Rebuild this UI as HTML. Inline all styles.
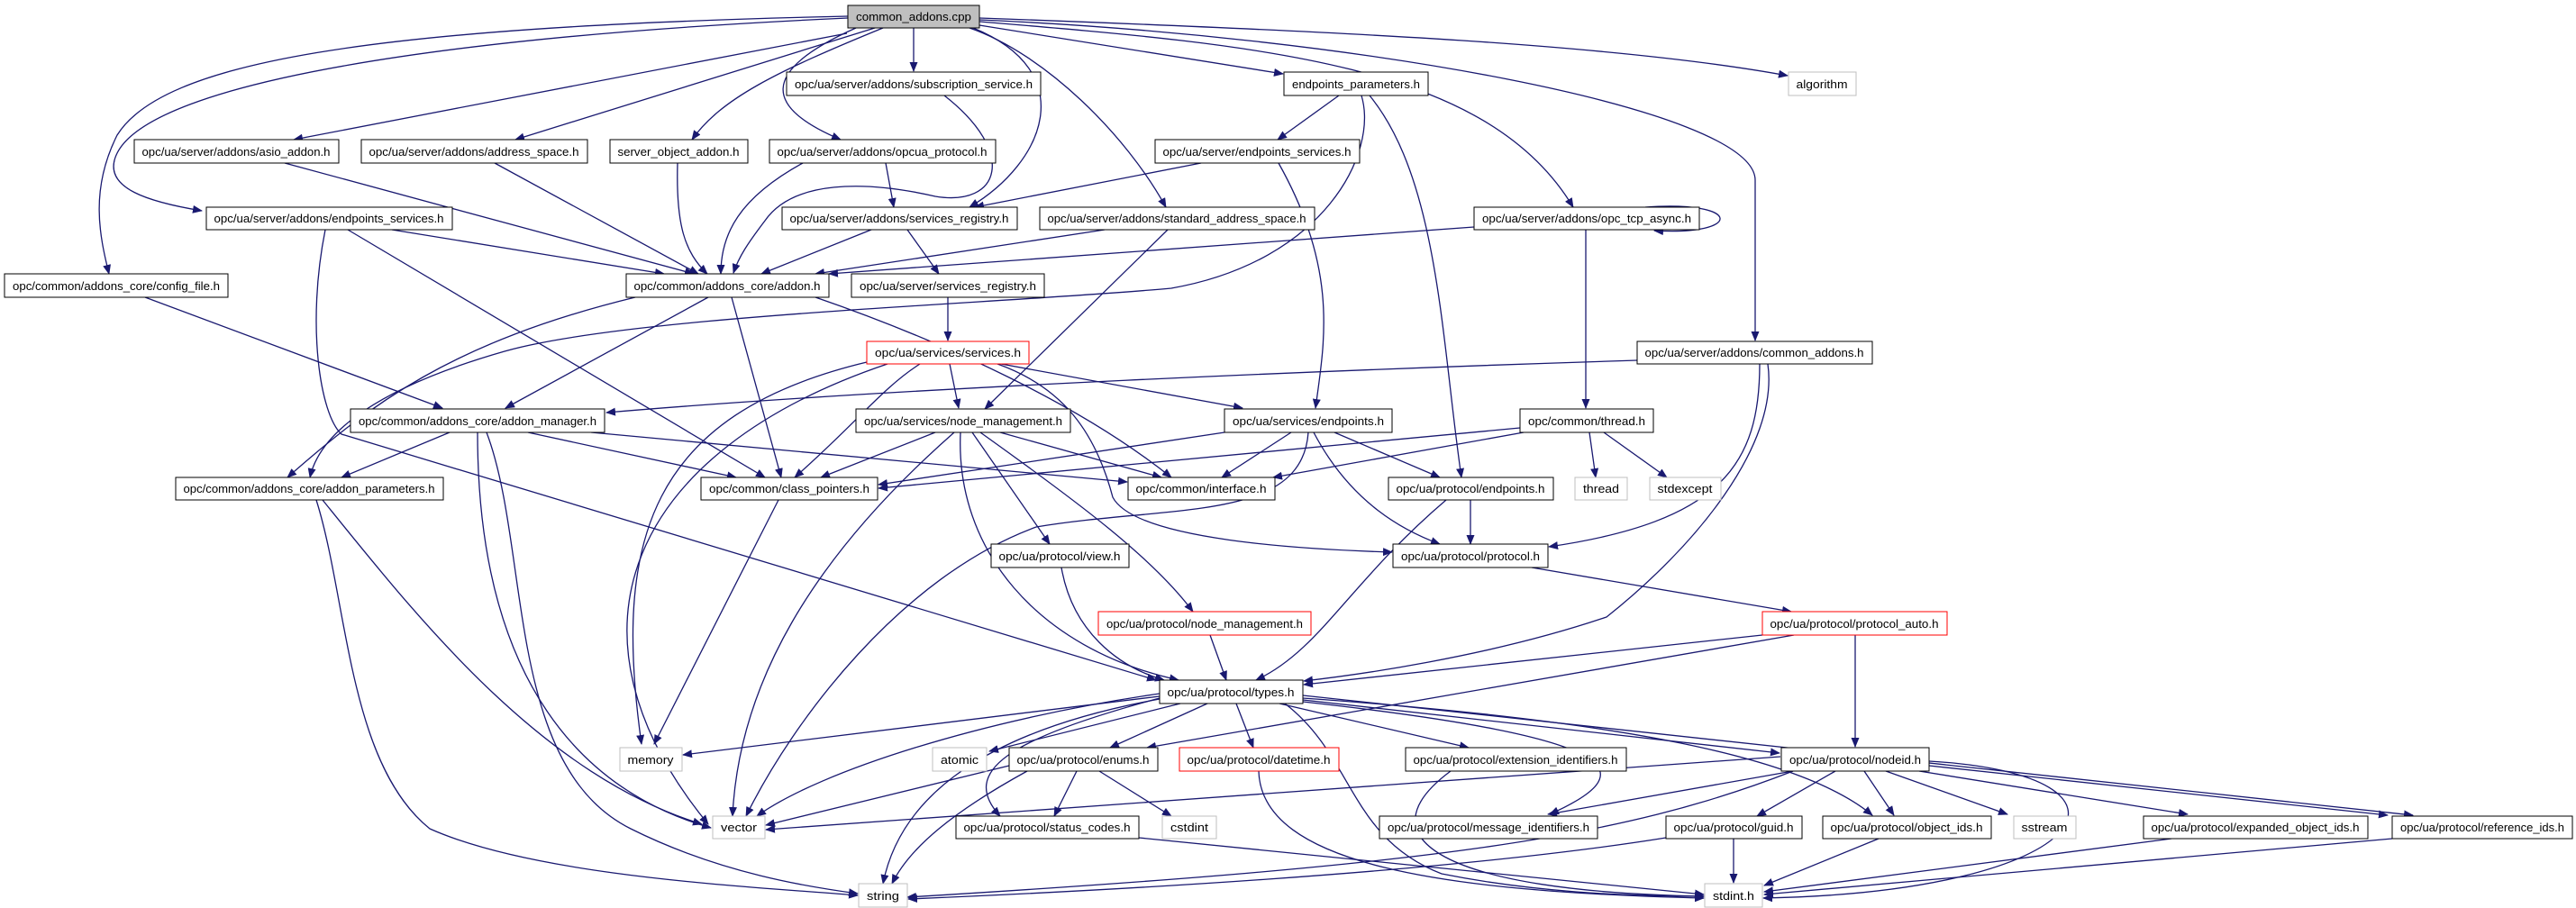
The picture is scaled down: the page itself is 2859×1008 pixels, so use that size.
<!DOCTYPE html>
<html><head><meta charset="utf-8"><style>
html,body{margin:0;padding:0;background:#fff;}
svg{display:block;}
text{font-family:"Liberation Sans",sans-serif;font-size:13px;fill:#000;}
.e{fill:none;stroke:#191970;stroke-width:1.3;marker-end:url(#a);}
.n{fill:#fff;stroke:#000;stroke-width:1;}
.g{fill:#fff;stroke:#bfbfbf;stroke-width:1;}
.r{fill:#fff;stroke:#ff0000;stroke-width:1;}
</style></head><body>
<svg width="2859" height="1008" viewBox="0 0 2859 1008" xmlns="http://www.w3.org/2000/svg">
<defs><marker id="a" markerWidth="11" markerHeight="9" refX="10" refY="4.5" orient="auto" markerUnits="userSpaceOnUse"><path d="M0,0 L11,4.5 L0,9z" fill="#191970"/></marker></defs>
<g>
<!-- root edges -->
<path class="e" d="M1014,31 L1014,79"/>
<path class="e" d="M1087,28 L1424,82"/>
<path class="e" d="M1087,20 C1500,35 1800,50 1984,84"/>
<path class="e" d="M940,37 L326,155"/>
<path class="e" d="M971,31 L572,155"/>
<path class="e" d="M980,31 C860,80 800,110 768,155"/>
<path class="e" d="M950,31 C840,80 850,120 933,155"/>
<path class="e" d="M941,20 C500,40 170,90 130,170 C110,210 170,225 224,234"/>
<path class="e" d="M941,18 C400,30 180,70 130,150 C100,210 110,260 121,304"/>
<path class="e" d="M1080,31 C1200,80 1160,180 1076,230"/>
<path class="e" d="M1076,31 C1160,60 1250,150 1294,230"/>
<path class="e" d="M1087,24 C1400,50 1650,70 1746,230"/>
<path class="e" d="M1087,22 C1500,40 1948,120 1948,200 L1948,378"/>
<!-- level 2 -->
<path class="e" d="M1486,106 L1418,155"/>
<path class="e" d="M1511,106 C1530,170 1470,290 1300,320 C1100,338 701,350 560,390 C420,430 355,480 344,530"/>
<path class="e" d="M1520,106 C1597,200 1600,380 1622,530"/>
<path class="e" d="M1048,106 C1130,170 1110,230 1038,218 C960,200 880,200 849,245 C830,270 820,285 814,303"/>
<path class="e" d="M316,181 L770,304"/>
<path class="e" d="M549,181 L775,304"/>
<path class="e" d="M752,181 C750,250 760,280 785,304"/>
<path class="e" d="M891,181 C820,220 800,260 800,304"/>
<path class="e" d="M983,181 L992,230"/>
<path class="e" d="M1333,181 L1082,230"/>
<path class="e" d="M1419,181 C1486,300 1470,380 1460,453"/>
<path class="e" d="M435,255 L737,304"/>
<path class="e" d="M967,255 L845,304"/>
<path class="e" d="M1007,255 L1042,304"/>
<path class="e" d="M1226,255 L905,304"/>
<path class="e" d="M1636,252 L920,304"/>
<path class="e" d="M1296,255 L1093,454"/>
<path class="e" d="M1826,230 C1935,222 1935,262 1836,256"/>
<path class="e" d="M1760,255 L1760,453"/>
<path class="e" d="M361,255 C340,360 355,460 379,482 L1283,755"/>
<path class="e" d="M386,255 L849,530"/>
<!-- level 3 -->
<path class="e" d="M161,330 L491,453"/>
<path class="e" d="M786,330 L561,453"/>
<path class="e" d="M705,330 C500,380 410,450 319,530"/>
<path class="e" d="M812,330 L867,530"/>
<path class="e" d="M905,330 C1050,380 1200,450 1300,530"/>
<path class="e" d="M1052,330 L1052,378"/>
<path class="e" d="M1054,404 L1064,453"/>
<path class="e" d="M1021,404 C980,430 950,470 882,530"/>
<path class="e" d="M962,402 C720,460 680,600 712,826"/>
<path class="e" d="M985,404 C700,500 610,700 786,915"/>
<path class="e" d="M1111,404 L1379,453"/>
<path class="e" d="M1107,404 C1180,430 1216,480 1235,552 C1260,600 1450,610 1545,613"/>
<path class="e" d="M1817,400 C1500,410 1000,430 673,458"/>
<path class="e" d="M1953,404 C1953,515 1911,579 1719,607"/>
<path class="e" d="M1962,404 C1975,495 1879,609 1783,685 C1650,730 1500,750 1447,756"/>
<!-- level 4 -->
<path class="e" d="M499,480 L379,530"/>
<path class="e" d="M586,480 L817,530"/>
<path class="e" d="M656,480 L1251,535"/>
<path class="e" d="M530,480 C530,760 650,880 789,919"/>
<path class="e" d="M540,480 C589,609 560,850 700,920 C800,970 900,985 952,992"/>
<path class="e" d="M1038,480 L911,530"/>
<path class="e" d="M1110,480 L1289,530"/>
<path class="e" d="M1079,480 L1165,604"/>
<path class="e" d="M1088,480 C1200,560 1280,620 1324,679"/>
<path class="e" d="M1066,480 C1060,609 1150,720 1308,755"/>
<path class="e" d="M1059,480 C900,620 820,760 813,906"/>
<path class="e" d="M1359,480 L975,538"/>
<path class="e" d="M1433,480 L1356,530"/>
<path class="e" d="M1481,480 L1598,530"/>
<path class="e" d="M1458,480 C1500,560 1560,590 1598,604"/>
<path class="e" d="M1452,480 C1445,580 1300,560 1150,585 C1000,640 880,800 828,906"/>
<path class="e" d="M1687,475 L975,542"/>
<path class="e" d="M1691,480 L1413,530"/>
<path class="e" d="M1764,480 L1771,530"/>
<path class="e" d="M1780,480 L1850,530"/>
<!-- level 5 -->
<path class="e" d="M358,555 C463,685 600,860 779,915"/>
<path class="e" d="M351,555 C386,666 386,847 477,920 C600,975 850,985 952,994"/>
<path class="e" d="M864,555 L726,826"/>
<path class="e" d="M1632,555 L1632,604"/>
<path class="e" d="M1605,555 C1497,647 1465,722 1394,755"/>
<path class="e" d="M1178,630 C1190,700 1240,740 1292,755"/>
<path class="e" d="M1343,705 L1361,755"/>
<path class="e" d="M1700,630 L1988,679"/>
<path class="e" d="M1956,705 L1447,760"/>
<path class="e" d="M1991,705 L1273,830"/>
<path class="e" d="M2059,705 L2059,829"/>
<!-- types.h -->
<path class="e" d="M1287,773 L758,838"/>
<path class="e" d="M1310,781 L1098,834"/>
<path class="e" d="M1340,781 L1232,830"/>
<path class="e" d="M1372,781 L1391,830"/>
<path class="e" d="M1420,781 L1630,830"/>
<path class="e" d="M1446,777 L1975,836"/>
<path class="e" d="M1446,779 C1815,820 1822,858 1720,904"/>
<path class="e" d="M1446,775 C1800,800 2000,840 2078,905"/>
<path class="e" d="M1446,772 L2678,905"/>
<path class="e" d="M1426,781 C1503,840 1497,930 1600,970 C1700,990 1800,995 1891,995"/>
<path class="e" d="M1287,776 C1100,810 1000,880 980,981"/>
<path class="e" d="M1287,770 C1094,798 911,855 840,906"/>
<path class="e" d="M1287,775 C1120,820 1064,856 1110,906"/>
<!-- level 7 -->
<path class="e" d="M1120,850 L850,916"/>
<path class="e" d="M1140,856 C1060,900 1010,940 990,981"/>
<path class="e" d="M1195,856 L1170,906"/>
<path class="e" d="M1220,856 L1300,906"/>
<path class="e" d="M1397,856 C1400,960 1600,990 1891,997"/>
<path class="e" d="M1610,856 C1510,930 1600,990 1891,995"/>
<path class="e" d="M1976,840 L850,921"/>
<path class="e" d="M1990,856 C1800,930 1600,960 1007,996"/>
<path class="e" d="M1990,856 L1718,904"/>
<path class="e" d="M2037,856 L1950,906"/>
<path class="e" d="M2069,856 L2102,905"/>
<path class="e" d="M2093,856 L2228,904"/>
<path class="e" d="M2130,856 L2428,904"/>
<path class="e" d="M2141,850 L2650,905"/>
<path class="e" d="M2141,845 C2400,860 2330,990 1957,997"/>
<!-- level 8 -->
<path class="e" d="M1264,930 L1891,993"/>
<path class="e" d="M1924,931 L1924,980"/>
<path class="e" d="M1849,930 C1600,970 1200,990 1008,998"/>
<path class="e" d="M2085,931 L1958,983"/>
<path class="e" d="M2410,931 L1958,990"/>
<path class="e" d="M2655,931 L1958,993"/>
</g>
<g>
<rect x="941" y="6" width="146" height="25" fill="#bfbfbf" stroke="#000"/><text x="1014" y="23" text-anchor="middle" textLength="128" lengthAdjust="spacingAndGlyphs">common_addons.cpp</text>
<rect class="n" x="873" y="80" width="282" height="26"/><text x="1014" y="98" text-anchor="middle" textLength="264" lengthAdjust="spacingAndGlyphs">opc/ua/server/addons/subscription_service.h</text>
<rect class="n" x="1425" y="80" width="160" height="26"/><text x="1505" y="98" text-anchor="middle" textLength="142" lengthAdjust="spacingAndGlyphs">endpoints_parameters.h</text>
<rect class="g" x="1985" y="80" width="75" height="26"/><text x="2022" y="98" text-anchor="middle" textLength="57" lengthAdjust="spacingAndGlyphs">algorithm</text>
<rect class="n" x="149" y="155" width="227" height="26"/><text x="262" y="173" text-anchor="middle" textLength="209" lengthAdjust="spacingAndGlyphs">opc/ua/server/addons/asio_addon.h</text>
<rect class="n" x="401" y="155" width="251" height="26"/><text x="526" y="173" text-anchor="middle" textLength="233" lengthAdjust="spacingAndGlyphs">opc/ua/server/addons/address_space.h</text>
<rect class="n" x="677" y="155" width="153" height="26"/><text x="753" y="173" text-anchor="middle" textLength="135" lengthAdjust="spacingAndGlyphs">server_object_addon.h</text>
<rect class="n" x="854" y="155" width="251" height="26"/><text x="979" y="173" text-anchor="middle" textLength="233" lengthAdjust="spacingAndGlyphs">opc/ua/server/addons/opcua_protocol.h</text>
<rect class="n" x="1282" y="155" width="227" height="26"/><text x="1395" y="173" text-anchor="middle" textLength="209" lengthAdjust="spacingAndGlyphs">opc/ua/server/endpoints_services.h</text>
<rect class="n" x="229" y="230" width="273" height="25"/><text x="365" y="247" text-anchor="middle" textLength="255" lengthAdjust="spacingAndGlyphs">opc/ua/server/addons/endpoints_services.h</text>
<rect class="n" x="868" y="230" width="261" height="25"/><text x="998" y="247" text-anchor="middle" textLength="243" lengthAdjust="spacingAndGlyphs">opc/ua/server/addons/services_registry.h</text>
<rect class="n" x="1154" y="230" width="305" height="25"/><text x="1306" y="247" text-anchor="middle" textLength="287" lengthAdjust="spacingAndGlyphs">opc/ua/server/addons/standard_address_space.h</text>
<rect class="n" x="1636" y="230" width="250" height="25"/><text x="1761" y="247" text-anchor="middle" textLength="232" lengthAdjust="spacingAndGlyphs">opc/ua/server/addons/opc_tcp_async.h</text>
<rect class="n" x="5" y="304" width="248" height="26"/><text x="129" y="322" text-anchor="middle" textLength="230" lengthAdjust="spacingAndGlyphs">opc/common/addons_core/config_file.h</text>
<rect class="n" x="695" y="304" width="225" height="26"/><text x="807" y="322" text-anchor="middle" textLength="207" lengthAdjust="spacingAndGlyphs">opc/common/addons_core/addon.h</text>
<rect class="n" x="945" y="304" width="214" height="26"/><text x="1052" y="322" text-anchor="middle" textLength="196" lengthAdjust="spacingAndGlyphs">opc/ua/server/services_registry.h</text>
<rect class="r" x="962" y="379" width="180" height="25"/><text x="1052" y="396" text-anchor="middle" textLength="162" lengthAdjust="spacingAndGlyphs">opc/ua/services/services.h</text>
<rect class="n" x="1817" y="379" width="261" height="25"/><text x="1947" y="396" text-anchor="middle" textLength="243" lengthAdjust="spacingAndGlyphs">opc/ua/server/addons/common_addons.h</text>
<rect class="n" x="389" y="454" width="282" height="26"/><text x="530" y="472" text-anchor="middle" textLength="264" lengthAdjust="spacingAndGlyphs">opc/common/addons_core/addon_manager.h</text>
<rect class="n" x="950" y="454" width="238" height="26"/><text x="1069" y="472" text-anchor="middle" textLength="220" lengthAdjust="spacingAndGlyphs">opc/ua/services/node_management.h</text>
<rect class="n" x="1359" y="454" width="186" height="26"/><text x="1452" y="472" text-anchor="middle" textLength="168" lengthAdjust="spacingAndGlyphs">opc/ua/services/endpoints.h</text>
<rect class="n" x="1687" y="454" width="148" height="26"/><text x="1761" y="472" text-anchor="middle" textLength="130" lengthAdjust="spacingAndGlyphs">opc/common/thread.h</text>
<rect class="n" x="195" y="530" width="297" height="25"/><text x="343" y="547" text-anchor="middle" textLength="279" lengthAdjust="spacingAndGlyphs">opc/common/addons_core/addon_parameters.h</text>
<rect class="n" x="778" y="530" width="196" height="25"/><text x="876" y="547" text-anchor="middle" textLength="178" lengthAdjust="spacingAndGlyphs">opc/common/class_pointers.h</text>
<rect class="n" x="1252" y="530" width="163" height="25"/><text x="1333" y="547" text-anchor="middle" textLength="145" lengthAdjust="spacingAndGlyphs">opc/common/interface.h</text>
<rect class="n" x="1541" y="530" width="183" height="25"/><text x="1632" y="547" text-anchor="middle" textLength="165" lengthAdjust="spacingAndGlyphs">opc/ua/protocol/endpoints.h</text>
<rect class="g" x="1748" y="530" width="58" height="25"/><text x="1777" y="547" text-anchor="middle" textLength="40" lengthAdjust="spacingAndGlyphs">thread</text>
<rect class="g" x="1831" y="530" width="79" height="25"/><text x="1870" y="547" text-anchor="middle" textLength="61" lengthAdjust="spacingAndGlyphs">stdexcept</text>
<rect class="n" x="1100" y="604" width="153" height="26"/><text x="1176" y="622" text-anchor="middle" textLength="135" lengthAdjust="spacingAndGlyphs">opc/ua/protocol/view.h</text>
<rect class="n" x="1546" y="604" width="172" height="26"/><text x="1632" y="622" text-anchor="middle" textLength="154" lengthAdjust="spacingAndGlyphs">opc/ua/protocol/protocol.h</text>
<rect class="r" x="1219" y="679" width="236" height="26"/><text x="1337" y="697" text-anchor="middle" textLength="218" lengthAdjust="spacingAndGlyphs">opc/ua/protocol/node_management.h</text>
<rect class="r" x="1956" y="679" width="205" height="26"/><text x="2058" y="697" text-anchor="middle" textLength="187" lengthAdjust="spacingAndGlyphs">opc/ua/protocol/protocol_auto.h</text>
<rect class="n" x="1287" y="755" width="159" height="26"/><text x="1366" y="773" text-anchor="middle" textLength="141" lengthAdjust="spacingAndGlyphs">opc/ua/protocol/types.h</text>
<rect class="g" x="688" y="830" width="69" height="26"/><text x="722" y="848" text-anchor="middle" textLength="51" lengthAdjust="spacingAndGlyphs">memory</text>
<rect class="g" x="1035" y="830" width="60" height="26"/><text x="1065" y="848" text-anchor="middle" textLength="42" lengthAdjust="spacingAndGlyphs">atomic</text>
<rect class="n" x="1120" y="830" width="165" height="26"/><text x="1202" y="848" text-anchor="middle" textLength="147" lengthAdjust="spacingAndGlyphs">opc/ua/protocol/enums.h</text>
<rect class="r" x="1309" y="830" width="177" height="26"/><text x="1397" y="848" text-anchor="middle" textLength="159" lengthAdjust="spacingAndGlyphs">opc/ua/protocol/datetime.h</text>
<rect class="n" x="1560" y="830" width="245" height="26"/><text x="1682" y="848" text-anchor="middle" textLength="227" lengthAdjust="spacingAndGlyphs">opc/ua/protocol/extension_identifiers.h</text>
<rect class="n" x="1977" y="830" width="164" height="26"/><text x="2059" y="848" text-anchor="middle" textLength="146" lengthAdjust="spacingAndGlyphs">opc/ua/protocol/nodeid.h</text>
<rect class="g" x="791" y="906" width="58" height="25"/><text x="820" y="923" text-anchor="middle" textLength="40" lengthAdjust="spacingAndGlyphs">vector</text>
<rect class="n" x="1061" y="906" width="203" height="25"/><text x="1162" y="923" text-anchor="middle" textLength="185" lengthAdjust="spacingAndGlyphs">opc/ua/protocol/status_codes.h</text>
<rect class="g" x="1290" y="906" width="60" height="25"/><text x="1320" y="923" text-anchor="middle" textLength="42" lengthAdjust="spacingAndGlyphs">cstdint</text>
<rect class="n" x="1531" y="906" width="242" height="25"/><text x="1652" y="923" text-anchor="middle" textLength="224" lengthAdjust="spacingAndGlyphs">opc/ua/protocol/message_identifiers.h</text>
<rect class="n" x="1849" y="906" width="151" height="25"/><text x="1924" y="923" text-anchor="middle" textLength="133" lengthAdjust="spacingAndGlyphs">opc/ua/protocol/guid.h</text>
<rect class="n" x="2023" y="906" width="187" height="25"/><text x="2116" y="923" text-anchor="middle" textLength="169" lengthAdjust="spacingAndGlyphs">opc/ua/protocol/object_ids.h</text>
<rect class="g" x="2235" y="906" width="69" height="25"/><text x="2269" y="923" text-anchor="middle" textLength="51" lengthAdjust="spacingAndGlyphs">sstream</text>
<rect class="n" x="2379" y="906" width="249" height="25"/><text x="2503" y="923" text-anchor="middle" textLength="231" lengthAdjust="spacingAndGlyphs">opc/ua/protocol/expanded_object_ids.h</text>
<rect class="n" x="2655" y="906" width="200" height="25"/><text x="2755" y="923" text-anchor="middle" textLength="182" lengthAdjust="spacingAndGlyphs">opc/ua/protocol/reference_ids.h</text>
<rect class="g" x="953" y="981" width="54" height="26"/><text x="980" y="999" text-anchor="middle" textLength="36" lengthAdjust="spacingAndGlyphs">string</text>
<rect class="g" x="1892" y="981" width="64" height="26"/><text x="1924" y="999" text-anchor="middle" textLength="46" lengthAdjust="spacingAndGlyphs">stdint.h</text>
</g>
</svg>
</body></html>
